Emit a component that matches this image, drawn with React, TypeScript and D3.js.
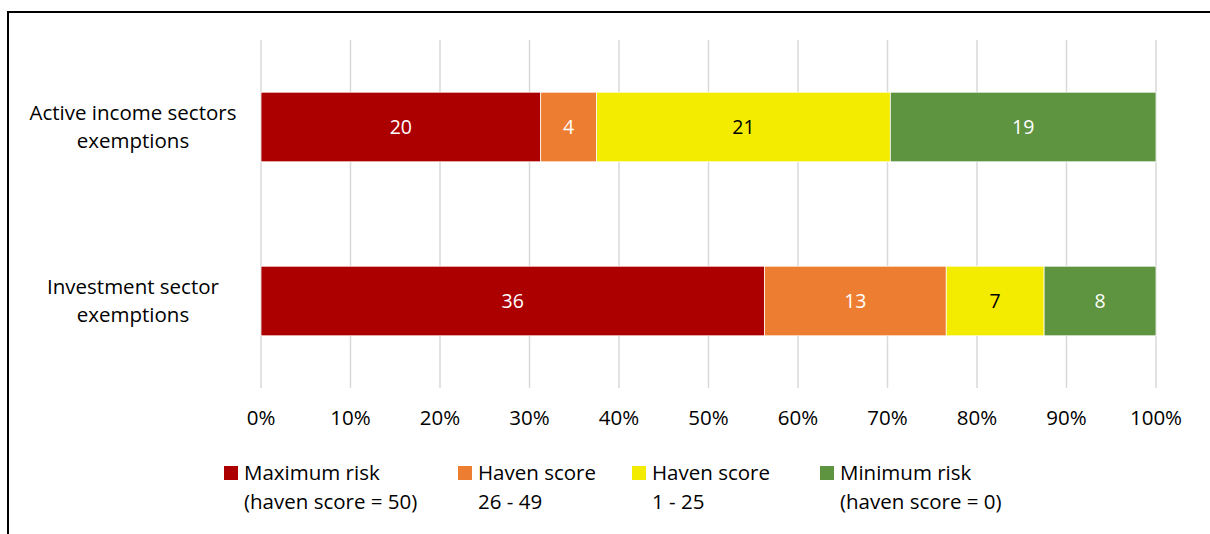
import React from "react";
import * as d3 from "d3";

const categories = ["Active income sectors exemptions", "Investment sector exemptions"];
const categoryLines = [["Active income sectors", "exemptions"], ["Investment sector", "exemptions"]];
const seriesKeys = ["max", "high", "low", "min"];
const seriesNames = [
  ["Maximum risk", "(haven score = 50)"],
  ["Haven score", "26 - 49"],
  ["Haven score", "1 - 25"],
  ["Minimum risk", "(haven score = 0)"],
];
const maxRisk = [20, 36];
const haven26to49 = [4, 13];
const haven1to25 = [21, 7];
const minRisk = [19, 8];
const colors = ["#AC0000", "#ED7D31", "#F4EC00", "#5E9340"];
const labelColors = ["#ffffff", "#ffffff", "#000000", "#ffffff"];
const ticks = [0, 0.1, 0.2, 0.3, 0.4, 0.5, 0.6, 0.7, 0.8, 0.9, 1];
const legendX = [224, 458, 632, 820];

const W = 1210;
const H = 534;
const FONT = "'Open Sans', sans-serif";
const FS = 20.5;

export default function App() {
  const rows = categories.map((c, i) => {
    const total = maxRisk[i] + haven26to49[i] + haven1to25[i] + minRisk[i];
    return {
      cat: c,
      raw: [maxRisk[i], haven26to49[i], haven1to25[i], minRisk[i]],
      max: maxRisk[i] / total,
      high: haven26to49[i] / total,
      low: haven1to25[i] / total,
      min: minRisk[i] / total,
    };
  });
  const stack = d3.stack<any>().keys(seriesKeys);
  const series = stack(rows);
  const x = d3.scaleLinear().domain([0, 1]).range([261, 1156]);
  const y = d3.scaleBand().domain(categories).range([40, 388]).paddingInner(0.6).paddingOuter(0.3);
  const pct = d3.format(".0%");

  return (
    <svg width={W} height={H} style={{ position: "absolute", left: 0, top: 0 }} fontFamily={FONT}>
      <rect x={0} y={0} width={W} height={H} fill="#fff" />
      {/* frame */}
      <line x1={8} y1={12} x2={W} y2={12} stroke="#000" strokeWidth={2} />
      <line x1={8} y1={11} x2={8} y2={H} stroke="#000" strokeWidth={2} />
      {/* gridlines */}
      {ticks.map((t) => (
        <line key={t} x1={x(t)} x2={x(t)} y1={40} y2={388} stroke="#D9D9D9" strokeWidth={1.5} />
      ))}
      {/* bars */}
      {series.map((s, si) => (
        <g key={s.key}>
          {s.map((d, di) => {
            const x0 = x(d[0]);
            const x1 = x(d[1]);
            const yy = y(categories[di])!;
            const bw = y.bandwidth();
            return (
              <g key={di}>
                <rect x={x0} y={yy} width={x1 - x0} height={bw} fill={colors[si]} stroke="#fff" strokeWidth={0.75} />
                <text
                  x={(x0 + x1) / 2}
                  y={yy + bw / 2}
                  dy="0.35em"
                  textAnchor="middle"
                  fontSize={19.5}
                  fill={labelColors[si]}
                >
                  {rows[di].raw[si]}
                </text>
              </g>
            );
          })}
        </g>
      ))}
      {/* category labels */}
      {categories.map((c, i) => {
        const cy = y(c)! + y.bandwidth() / 2;
        const lines = categoryLines[i];
        return (
          <text key={c} x={133} textAnchor="middle" fontSize={FS} fill="#000">
            {lines.map((l, li) => (
              <tspan key={li} x={133} y={cy + (li - (lines.length - 1) / 2) * 28.5} dy="0.35em">
                {l}
              </tspan>
            ))}
          </text>
        );
      })}
      {/* x tick labels */}
      {ticks.map((t) => (
        <text key={t} x={x(t)} y={418} dy="0.35em" textAnchor="middle" fontSize={FS} fill="#000">
          {pct(t)}
        </text>
      ))}
      {/* legend */}
      {seriesNames.map((n, i) => (
        <g key={i}>
          <rect x={legendX[i]} y={466} width={14} height={14} fill={colors[i]} />
          <text fontSize={FS} fill="#000">
            <tspan x={legendX[i] + 20} y={473} dy="0.35em">{n[0]}</tspan>
            <tspan x={legendX[i] + 20} y={502} dy="0.35em">{n[1]}</tspan>
          </text>
        </g>
      ))}
    </svg>
  );
}
